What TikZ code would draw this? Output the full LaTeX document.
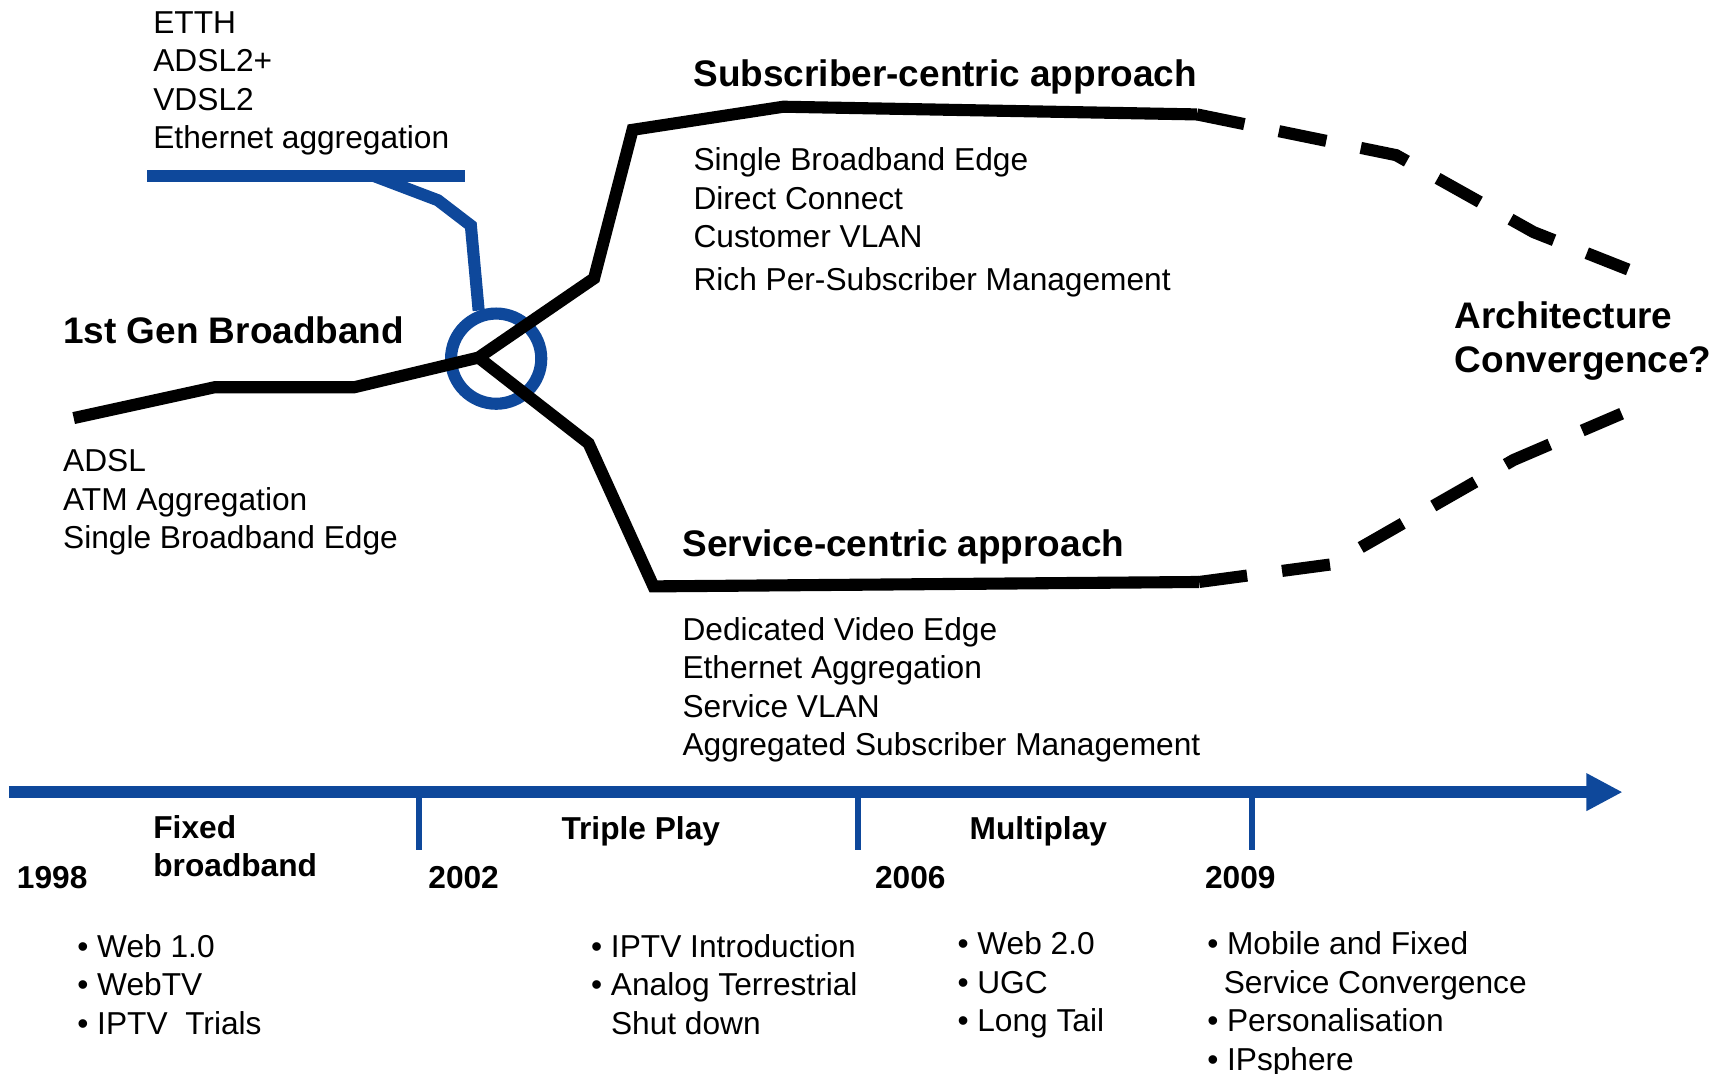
\documentclass[tikz,border=0pt]{standalone}
\usepackage{fontspec}
\setmainfont{Liberation Sans}
\usetikzlibrary{arrows.meta}

\definecolor{azul}{RGB}{14,72,155}

\tikzset{
  texto/.style={anchor=base west, inner sep=0pt, align=left,
    font=\fontsize{14.4}{17.5}\selectfont},
  titulo/.style={anchor=base west, inner sep=0pt, align=left,
    font=\fontsize{16.8}{20}\selectfont\bfseries},
  etiqueta/.style={texto, font=\fontsize{14.4}{17.5}\selectfont\bfseries},
  rama/.style={line width=5.5pt, line join=miter},
  futuro/.style={rama, dash pattern=on 22pt off 16pt},
  acceso/.style={draw=azul, line width=5.5pt},
}
\newcommand{\vineta}{\makebox[9pt][l]{•}}

\begin{document}
\begin{tikzpicture}[x=0.5pt, y=-0.5pt]
    \useasboundingbox (0,0) rectangle (1568,976);

    % Puntos de paso de las ramas
    \coordinate (inicio) at (67,380);
    \coordinate (nudo) at (435,325);
    \coordinate (subs) at (1088,104);
    \coordinate (serv) at (1090,529);
    \coordinate (finsubs) at (1480,245);
    \coordinate (finserv) at (1474,376);

    % Acceso de nueva generacion (azul)
    \node[circle, acceso, minimum size=41pt, inner sep=0pt] (anillo) at (451,326) {};
    \draw[acceso] (134,160) coordinate (barra) -- (423,160);
    \coordinate (derivacion) at (340,160);
    \draw[acceso] (derivacion) -- (398,182) -- (428,205) -- (anillo.110);

    % Rama centrada en el abonado
    \draw[rama] (inicio) -- (195,352) -- (322,352) -- (nudo) -- (540,253)
        -- (575,118) -- (712,97) -- (subs);
    % Rama centrada en el servicio
    \draw[rama] (nudo) -- (535,403) -- (594,533) -- (serv);
    % Convergencia (a trazos)
    \draw[futuro] (subs) -- (1269,141) -- (1394,211) -- (finsubs);
    \draw[futuro] (serv) -- (1210,513) -- (1376,418) -- (finserv);

    % Textos de las ramas (el ancla es la base de la ultima linea)
    \node[texto] (nga) at (139,135) {ETTH\\ADSL2+\\VDSL2\\Ethernet aggregation};
    \node[titulo] (gen1) at (57,312) {1st Gen Broadband};
    \node[texto] (gen1txt) at (57,499) {ADSL\\ATM Aggregation\\Single Broadband Edge};
    \node[titulo] (subtit) at (630,79) {Subscriber-centric approach};
    \node[texto] (subtxt) at (630,264) {Single Broadband Edge\\Direct Connect\\Customer VLAN\\[2pt]Rich Per-Subscriber Management};
    \node[titulo] (servtit) at (620,506) {Service-centric approach};
    \node[texto] (servtxt) at (620,687) {Dedicated Video Edge\\Ethernet Aggregation\\Service VLAN\\Aggregated Subscriber Management};
    \node[titulo] (conv) at (1322,339) {Architecture\\Convergence?};

    % Linea de tiempo
    \coordinate (t0) at (8,720);
    \coordinate (t1) at (1475,720);
    \draw[azul, line width=5.5pt, -{Triangle[length=16.5pt,width=16pt]}] (t0) -- (t1);
    \foreach \x in {381,780,1138}
        \draw[azul, line width=3pt] (\x,720) -- (\x,773);

    % Anios y etapas
    \foreach \x/\anio in {15/1998, 389/2002, 795/2006, 1095/2009}
        \node[etiqueta] (a\anio) at (\x,808) {\anio};
    \node[etiqueta] (fase1) at (139,797) {Fixed\\broadband};
    \node[etiqueta] (fase2) at (510,763) {Triple Play};
    \node[etiqueta] (fase3) at (881,763) {Multiplay};

    % Hitos de cada etapa
    \node[texto] (hitos1) at (70,940) {\vineta Web 1.0\\\vineta WebTV\\\vineta IPTV\ \ Trials};
    \node[texto] (hitos2) at (537,940) {\vineta IPTV Introduction\\\vineta Analog Terrestrial\\\hspace*{9pt}Shut down};
    \node[texto] (hitos3) at (870,938) {\vineta Web 2.0\\\vineta UGC\\\vineta Long Tail};
    \node[texto] (hitos4) at (1097,973) {\vineta Mobile and Fixed\\\hspace*{7.5pt}Service Convergence\\\vineta Personalisation\\\vineta IPsphere};
\end{tikzpicture}
\end{document}
